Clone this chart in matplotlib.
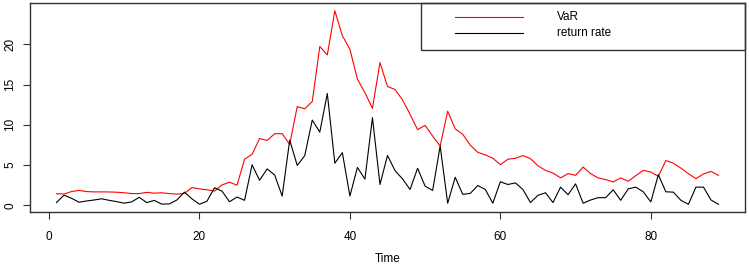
import numpy as np
import matplotlib
matplotlib.use("Agg")
import matplotlib.pyplot as plt

plt.rcParams["font.family"] = ["Liberation Sans", "DejaVu Sans"]

# series, t = 1..89
var_vals = [1.43, 1.40, 1.70, 1.84, 1.70, 1.66, 1.66, 1.65, 1.62, 1.55,
            1.45, 1.45, 1.60, 1.50, 1.55, 1.45, 1.38, 1.47, 2.20, 2.04,
            1.92, 1.76, 2.53, 2.86, 2.49, 5.73, 6.34, 8.30, 8.06, 8.90,
            8.90, 7.57, 12.27, 12.00, 12.90, 19.75, 18.70, 24.20, 21.10, 19.40,
            15.70, 14.00, 12.06, 17.75, 14.77, 14.40, 13.10, 11.30, 9.40, 9.94,
            8.60, 7.36, 11.70, 9.50, 8.83, 7.48, 6.58, 6.26, 5.85, 5.05,
            5.72, 5.85, 6.17, 5.80, 4.90, 4.34, 4.00, 3.40, 3.93, 3.72,
            4.75, 3.93, 3.40, 3.19, 2.90, 3.40, 2.98, 3.68, 4.34, 4.13,
            3.60, 5.56, 5.23, 4.62, 3.93, 3.30, 3.89, 4.21, 3.72]
return_vals = [0.33, 1.25, 0.86, 0.37, 0.53, 0.65, 0.80, 0.61, 0.45, 0.25,
               0.42, 0.98, 0.33, 0.60, 0.14, 0.16, 0.65, 1.63, 0.80, 0.12,
               0.50, 2.17, 1.76, 0.43, 1.02, 0.61, 5.03, 3.10, 4.52, 3.76,
               1.14, 8.10, 4.95, 6.17, 10.60, 9.10, 13.90, 5.23, 6.54, 1.14,
               4.70, 3.25, 10.90, 2.58, 6.20, 4.30, 3.27, 1.96, 4.60, 2.37,
               1.84, 7.36, 0.25, 3.48, 1.35, 1.47, 2.45, 1.96, 0.25, 2.92,
               2.58, 2.78, 1.96, 0.33, 1.23, 1.55, 0.33, 2.25, 1.31, 2.66,
               0.25, 0.65, 0.94, 0.94, 1.92, 0.61, 2.04, 2.25, 1.67, 0.41,
               3.80, 1.67, 1.63, 0.61, 0.12, 2.25, 2.25, 0.65, 0.12]
series_labels = ["VaR", "return rate"]
series_colors = ["#ff0000", "black"]
x_ticks = [0, 20, 40, 60, 80]
y_ticks = [0, 5, 10, 15, 20]

t = np.arange(1, len(var_vals) + 1)


def _r_range(lo, hi):
    """R style axis range: data range widened by 4% each side."""
    pad = 0.04 * (hi - lo)
    return lo - pad, hi + pad


def _legend_box(ax, labels, colors):
    """R-like legend: boxed, top-right corner, sample line then label."""
    x0, y0 = 0.547, 0.775
    ax.add_patch(plt.Rectangle((x0, y0), 1 - x0, 1 - y0, transform=ax.transAxes,
                               fill=False, edgecolor="#333333", lw=1.0,
                               clip_on=False, zorder=5))
    rows = [0.933, 0.857]
    for yy, lbl, col in zip(rows, labels, colors):
        ax.plot([0.594, 0.689], [yy, yy], color=col, lw=0.8,
                transform=ax.transAxes, clip_on=False)
        ax.text(0.737, yy, lbl, transform=ax.transAxes, ha="left",
                va="center", fontsize=8.5)


fig = plt.figure(figsize=(7.49, 2.67), dpi=100)
ax = fig.add_axes([30 / 749, 55 / 267, 715 / 749, 209 / 267])

ax.plot(t, var_vals, color=series_colors[0], lw=0.8)
ax.plot(t, return_vals, color=series_colors[1], lw=0.8)

ax.set_xlim(*_r_range(t.min(), t.max()))
ax.set_ylim(*_r_range(min(min(var_vals), min(return_vals)),
                      max(max(var_vals), max(return_vals))))
ax.set_xticks(x_ticks)
ax.set_yticks(y_ticks)
ax.set_yticklabels([str(v) for v in y_ticks], rotation=90, va="center")
ax.tick_params(direction="out", length=5, width=0.8, colors="#333333",
               labelsize=8.5, labelcolor="black")
ax.tick_params(axis="x", pad=9)
ax.tick_params(axis="y", pad=5)
for sp in ax.spines.values():
    sp.set_color("#333333")
    sp.set_linewidth(1.0)
ax.set_xlabel("Time", fontsize=8.5, labelpad=7)

_legend_box(ax, series_labels, series_colors)

fig.savefig("out.png", dpi=100)
